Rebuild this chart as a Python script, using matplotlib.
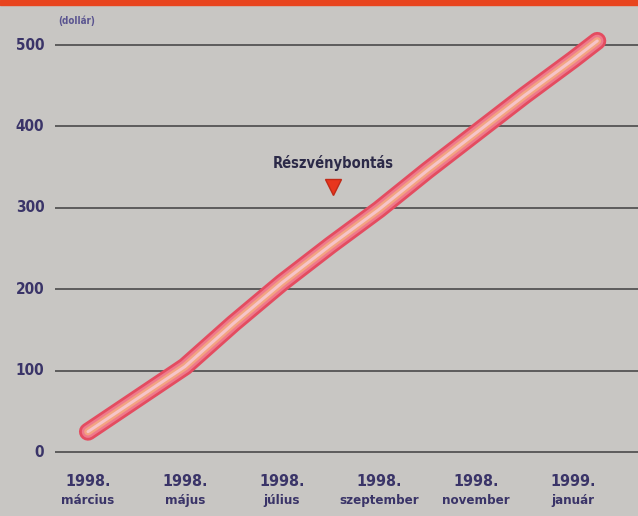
import matplotlib
matplotlib.use("Agg")
import matplotlib.pyplot as plt
from matplotlib.patches import Rectangle

# share price (dollár), month index 0 = 1998 március
months = [0, 1, 2, 3, 4, 5, 6, 7, 8, 9, 10, 10.5]
prices = [25, 65, 105, 158, 208, 254, 298, 346, 392, 438, 482, 505]

tick_months = [0, 2, 4, 6, 8, 10]
tick_years = ["1998.", "1998.", "1998.", "1998.", "1998.", "1999."]
tick_names = ["március", "május", "július", "szeptember", "november", "január"]
y_ticks = [0, 100, 200, 300, 400, 500]

split_month = 5.05
split_price = 325
split_label = "Részvénybontás"

bg = "#c8c6c3"
ink = "#3a3468"
txt = dict(fontweight="bold", family="DejaVu Sans", fontstretch="condensed")

fig = plt.figure(figsize=(6.38, 5.16), dpi=100, facecolor=bg)
ax = fig.add_axes([0, 0, 1, 1])
ax.set_facecolor(bg)
ax.set_xlim(-1.814, 11.34)
ax.set_ylim(-78.6, 555.3)
ax.axis("off")

# red strip at the top
fig.patches.append(Rectangle((0, 0.99), 1, 0.01, transform=fig.transFigure,
                             color="#e8441e", zorder=0))

# gridlines and y labels
for v in y_ticks:
    ax.hlines(v, -0.68, 11.34, color="#4a4a4a", lw=1.2, zorder=1)
    ax.text(-0.9, v, str(v), ha="right", va="center", fontsize=11,
            color=ink, **txt)
ax.text(-0.62, 530, "(dollár)", ha="left", va="center", fontsize=7,
        color="#5a5490", **txt)

# price line, layered to mimic the striped band
for lw, c in [(13, "#e44c60"), (9, "#ee7a8c"), (5.5, "#f3a482"), (2.2, "#f6c4c8")]:
    ax.plot(months, prices, color=c, lw=lw, solid_capstyle="round",
            solid_joinstyle="round", zorder=3)

# stock split marker
ax.plot([split_month], [split_price], marker="v", ms=11, color="#e8361e",
        mec="#c02a18", zorder=4)
ax.text(split_month, split_price + 30, split_label, ha="center", va="center",
        fontsize=10.5, color="#2c2a48", **txt)

# x labels
for m, yr, nm in zip(tick_months, tick_years, tick_names):
    ax.text(m, -36, yr, ha="center", va="center", fontsize=11.5,
            color=ink, **txt)
    ax.text(m, -60, nm, ha="center", va="center", fontsize=9.5,
            color=ink, **txt)

fig.savefig("out.png", dpi=100, facecolor=bg)
